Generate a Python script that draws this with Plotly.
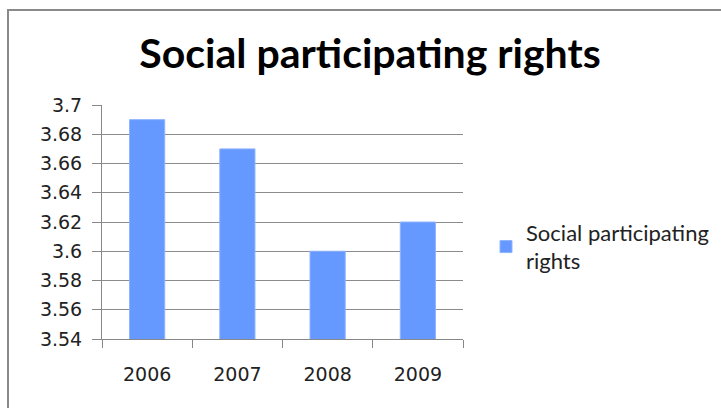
import plotly.graph_objects as go

# Chart data
years = ["2006", "2007", "2008", "2009"]
scores = [3.69, 3.67, 3.60, 3.62]
series_name = "Social participating rights"
y_ticks = [3.54, 3.56, 3.58, 3.6, 3.62, 3.64, 3.66, 3.68, 3.7]
y_tick_labels = ["3.54", "3.56", "3.58", "3.6", "3.62", "3.64", "3.66", "3.68", "3.7"]

W, H = 721, 408
L, R, T, B = 102, 258, 105, 69
pw, ph = W - L - R, H - T - B

def px_x(p):
    return (p - L) / pw

def px_y(p):
    return (H - B - p) / ph

title_font = "Lato, 'Open Sans', sans-serif"
tick_font = "'DejaVu Sans', Verdana, sans-serif"

fig = go.Figure(
    go.Bar(
        x=years,
        y=scores,
        name="Social participating<br>rights",
        marker=dict(color="#6699FF", line=dict(color="#8FB3FF", width=1)),
        showlegend=True,
    )
)

fig.update_layout(
    width=W,
    height=H,
    margin=dict(l=L, r=R, t=T, b=B, autoexpand=False),
    paper_bgcolor="white",
    plot_bgcolor="white",
    bargap=0.61,
    font=dict(family=title_font, color="#222222", size=18),
    title=dict(
        text="<b>" + series_name + "</b>",
        x=px_x(370),
        xref="paper",
        xanchor="center",
        y=1 - 54 / H,
        yanchor="middle",
        font=dict(size=41, color="#000000", family=title_font),
    ),
    legend=dict(
        x=px_x(486),
        y=px_y(247),
        xanchor="left",
        yanchor="middle",
        font=dict(size=22, color="#222222", family=title_font),
        bgcolor="rgba(0,0,0,0)",
        itemwidth=30,
    ),
    showlegend=True,
)

fig.update_xaxes(
    type="category",
    showline=True,
    linecolor="#888888",
    linewidth=1,
    ticks="outside",
    tickson="boundaries",
    ticklen=8,
    tickcolor="#888888",
    showgrid=False,
    ticklabelstandoff=18,
    tickfont=dict(size=19, color="#222222", family=tick_font),
)

fig.update_yaxes(
    range=[3.54, 3.7],
    tickvals=y_ticks,
    ticktext=y_tick_labels,
    showline=True,
    linecolor="#888888",
    linewidth=1,
    ticks="outside",
    ticklen=9,
    tickcolor="#888888",
    showgrid=True,
    gridcolor="#8c8c8c",
    gridwidth=1,
    zeroline=False,
    ticklabelstandoff=6,
    tickfont=dict(size=19, color="#222222", family=tick_font),
)

# Outer chart frame
fig.add_shape(
    type="rect",
    xref="paper",
    yref="paper",
    x0=px_x(8),
    x1=px_x(W + 20),
    y0=px_y(H + 20),
    y1=px_y(10),
    line=dict(color="#8a8a8a", width=2),
    layer="below",
)

fig.write_html("out.html")
